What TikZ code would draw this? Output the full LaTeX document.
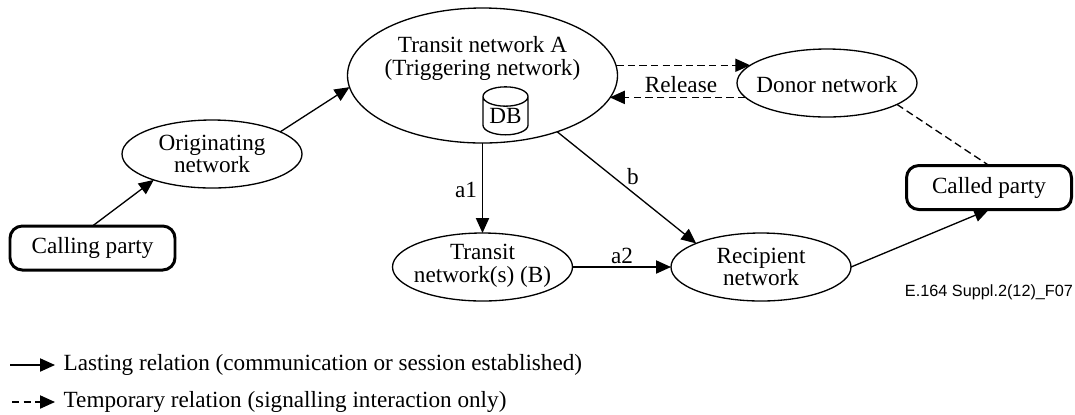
\documentclass[tikz,border=0pt]{standalone}
\usepackage{fontspec}
\setmainfont{Liberation Serif}
\newfontfamily\figfont{Liberation Sans}
\usetikzlibrary{arrows.meta,shapes.geometric}
\newcommand{\pxu}{*0.02cm}
\tikzset{
    net/.style={draw,ellipse,inner sep=0pt,outer sep=0pt,align=center,font=\fontsize{13.2}{13}\selectfont},
    party/.style={draw,line width=1.7pt,rounded corners=7pt,inner sep=0pt,outer sep=0pt,minimum width=165\pxu,minimum height=44\pxu,font=\fontsize{13.2}{13}\selectfont},
    rel/.style={line width=0.75pt,-{Triangle[length=8.5pt,width=7.5pt]}},
    temp/.style={rel,dash pattern=on 4.2pt off 2.4pt},
    tag/.style={font=\fontsize{13.2}{13}\selectfont,inner sep=0pt}
}
\begin{document}
\begin{tikzpicture}[x=0.02cm,y=-0.02cm,line width=0.75pt]
    \useasboundingbox (0,0) rectangle (1075,414);
    \node[net,minimum width=270\pxu,minimum height=135\pxu] (mainnet) at (482.5,75.5) {};
    \node[tag,align=center] (maintext) at (482.5,58.5) {Transit network A\\(Triggering network)};
    \node[draw,cylinder,shape border rotate=90,aspect=0.6,inner sep=0pt,outer sep=0pt,minimum width=45\pxu,minimum height=48\pxu,font=\fontsize{13.2}{13}\selectfont] (dbcyl) at (505.5,116) {DB};
    \node[net,minimum width=180\pxu,minimum height=68\pxu] (orignet) at (212,154) {Originating\\network};
    \node[net,minimum width=180\pxu,minimum height=68\pxu] (donornet) at (827,83) {};
    \node[tag] (donortext) at (827,85) {Donor network};
    \node[net,minimum width=180\pxu,minimum height=68\pxu] (transitb) at (482.5,267) {};
    \node[tag,align=center] (transittext) at (482.5,266) {Transit\\network(s) (B)};
    \node[net,minimum width=180\pxu,minimum height=68\pxu] (recipnet) at (761,267) {Recipient\\network};
    \node[party] (calling) at (92.5,248) {Calling party};
    \node[party] (called) at (989,187.5) {Called party};

    \draw[rel] (calling.north) -- (orignet.204);
    \draw[rel] (orignet.18) -- (mainnet.185);
    \draw[rel] (mainnet.south) -- (transitb.north);
    \draw[rel] (transitb.east) -- (recipnet.west);
    \draw[rel] (mainnet.-37) -- (recipnet.160);
    \draw[rel] (recipnet.east) -- (called.south);
    \draw[temp] (mainnet.4 |- donornet.167) -- (donornet.167);
    \draw[temp] (donornet.190) -- (mainnet.-10 |- donornet.190);
    \draw[dash pattern=on 4.2pt off 2.4pt] (donornet.-17) -- (called.north);
    \node[tag] (release) at (681,85) {Release};
    \node[tag] (tagaone) at (466,190) {a1};
    \node[tag] (tagatwo) at (622,256) {a2};
    \node[tag] (tagb) at (633,177) {b};

    \node[font=\figfont\fontsize{9.25}{12}\selectfont,inner sep=0pt] (figref) at (989,292) {E.164 Suppl.2(12)\_F07};

    \coordinate (lastfrom) at (10,365);
    \coordinate (lastto) at (55,365);
    \coordinate (tempfrom) at (12,402);
    \coordinate (tempto) at (55,402);
    \node[tag,anchor=base west] (lasttext) at (63,370.5) {Lasting relation (communication or session established)};
    \node[tag,anchor=base west] (temptext) at (63,407.5) {Temporary relation (signalling interaction only)};
    \draw[rel] (lastfrom) -- (lastto);
    \draw[temp] (tempfrom) -- (tempto);
\end{tikzpicture}
\end{document}
